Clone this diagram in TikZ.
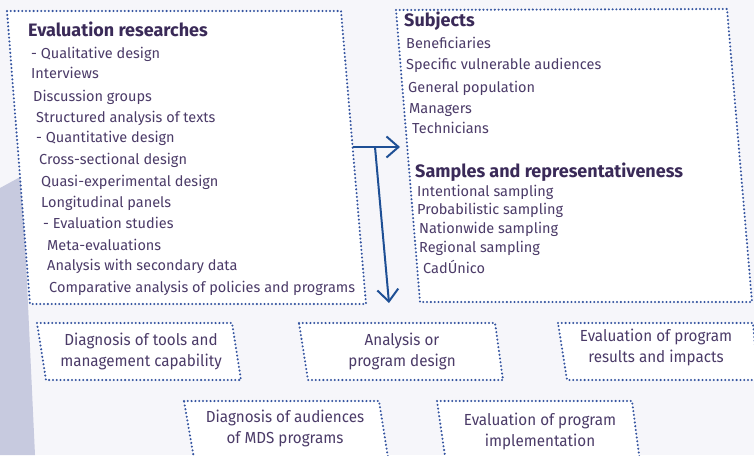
\documentclass[tikz,border=0pt]{standalone}
\usepackage{fontspec}
\setmainfont{Fira Sans}
\usetikzlibrary{arrows.meta}
\definecolor{paper}{RGB}{246,246,250}
\definecolor{wedge}{RGB}{199,202,223}
\definecolor{dotblue}{RGB}{52,84,160}
\definecolor{flowblue}{RGB}{30,79,149}
\definecolor{ink}{RGB}{75,59,104}
\definecolor{inkdark}{RGB}{58,42,88}
\tikzset{
  dotbox/.style={draw=dotblue, fill=white, line width=2.3pt, line cap=round, dash pattern=on 0pt off 3.8pt},
  item/.style={anchor=base west, inner sep=0pt, text=ink, font=\fontsize{14.5}{17}\selectfont},
  head/.style={item, text=inkdark, font=\fontsize{18}{20}\selectfont\bfseries},
  task/.style={align=center, inner sep=0pt, text=ink, font=\fontsize{16}{21}\selectfont\addfontfeature{FakeStretch=0.95}},
  flow/.style={draw=flowblue, line width=2pt, -{Straight Barb[length=12pt,width=21pt]}}
}

\begin{document}
\begin{tikzpicture}[x=1pt,y=-1pt]
  \fill [paper] (0,0) rectangle (754,455);
  \useasboundingbox (0,0) rectangle (754,455);
  \fill [wedge] (0,188) -- (22,176) -- (35,455) -- (0,455) -- cycle;

  \filldraw [dotbox] (7,11) coordinate (res-tl) -- (341,11) coordinate (res-tr) -- (366,304) coordinate (res-br) -- (30,304) coordinate (res-bl) -- cycle;
  \node [head] (res-title) at (28,36) {Evaluation researches};
  \foreach \t/\x/\y [count=\i] in {- Qualitative design/31/58, Interviews/31/78, Discussion groups/33/101,
    Structured analysis of texts/36/122, - Quantitative design/36/142, Cross-sectional design/39/164,
    Quasi-experimental design/41/186, Longitudinal panels/41/207, - Evaluation studies/43/228,
    Meta-evaluations/47/250, Analysis with secondary data/47/270, Comparative analysis of policies and programs/49/292}
    \node [item] (res-\i) at (\x,\y) {\t};

  \filldraw [dotbox] (396,10) coordinate (sub-tl) -- (727,9) coordinate (sub-tr) -- (752,302) coordinate (sub-br) -- (420,302) coordinate (sub-bl) -- cycle;
  \node [head] (sub-title) at (404,27) {Subjects};
  \foreach \t/\x/\y [count=\i] in {Beneficiaries/406/48, Specific vulnerable audiences/406/69, General population/408/92,
    Managers/409/113, Technicians/412/133}
    \node [item] (sub-\i) at (\x,\y) {\t};
  \node [head] (smp-title) at (415,177) {Samples and representativeness};
  \foreach \t/\x/\y [count=\i] in {Intentional sampling/417/196, Probabilistic sampling/417/214, Nationwide sampling/419/233,
    Regional sampling/419/252, CadÚnico/423/273}
    \node [item] (smp-\i) at (\x,\y) {\t};

  \coordinate (out) at (353,147);
  \coordinate (fork) at (375,147);
  \coordinate (in-sub) at (400,147);
  \coordinate (in-row) at (389,303);
  \draw [flow] (out) -- (in-sub);
  \draw [flow] (fork) -- (in-row);

  \filldraw [dotbox] (37,323) -- (232,323) -- (241,380) -- (46,380) -- cycle;
  \node [task] (tools) at (141,351) {Diagnosis of tools and\\management capability};
  \filldraw [dotbox] (299,323) -- (495,323) -- (503,380) -- (308,380) -- cycle;
  \node [task] (design) at (402,351) {Analysis or\\program design};
  \filldraw [dotbox] (558,323) -- (753,323) -- (758,380) -- (567,380) -- cycle;
  \node [task] (impacts) at (656,347) {Evaluation of program\\results and impacts};
  \filldraw [dotbox] (184,401) -- (379,401) -- (390,470) -- (196,470) -- cycle;
  \node [task] (audiences) at (285,428) {Diagnosis of audiences\\of MDS programs};
  \filldraw [dotbox] (437,401) -- (632,401) -- (641,470) -- (447,470) -- cycle;
  \node [task] (implement) at (540,431) {Evaluation of program\\implementation};
\end{tikzpicture}
\end{document}
